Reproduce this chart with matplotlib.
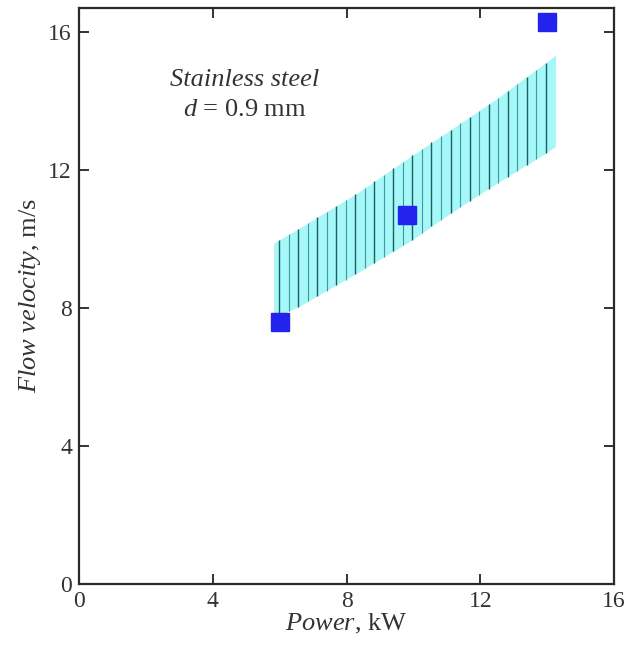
import numpy as np
import matplotlib.pyplot as plt

plt.rcParams['font.family'] = ['Liberation Serif', 'DejaVu Serif']
plt.rcParams['mathtext.fontset'] = 'custom'
plt.rcParams['mathtext.rm'] = 'Liberation Serif'
plt.rcParams['mathtext.it'] = 'Liberation Serif:italic'

# measured points
power = [6.0, 9.8, 14.0]
velocity = [7.6, 10.7, 16.3]

# uncertainty band (upper / lower edges)
band_x_up = [5.82, 6.57, 7.42, 8.31, 9.11, 9.96, 10.81, 11.66, 12.51, 13.10, 13.95, 14.25]
band_y_up = [9.88, 10.30, 10.80, 11.32, 11.86, 12.42, 12.97, 13.52, 14.08, 14.50, 15.10, 15.33]
band_x_lo = [5.82, 6.57, 8.31, 9.96, 10.81, 11.66, 12.51, 13.10, 13.95, 14.25]
band_y_lo = [7.71, 8.04, 9.01, 9.97, 10.55, 11.10, 11.62, 11.98, 12.48, 12.68]

fig = plt.figure(figsize=(6.37, 6.46), dpi=100)
ax = fig.add_axes([0.124, 0.096, 0.840, 0.892])

xx = np.linspace(band_x_up[0], band_x_up[-1], 200)
up = np.interp(xx, band_x_up, band_y_up)
lo = np.interp(xx, band_x_lo, band_y_lo)
ax.fill_between(xx, lo, up, color='#a6f7f7', linewidth=0, zorder=1)

# vertical hatch lines inside the band, alternating dark / light
hx = np.arange(5.98, 14.2, 0.285)
hlo = np.interp(hx, band_x_lo, band_y_lo)
hup = np.interp(hx, band_x_up, band_y_up)
ax.vlines(hx[::2], hlo[::2], hup[::2], colors='#1c5f66', linewidth=1.0, zorder=2)
ax.vlines(hx[1::2], hlo[1::2], hup[1::2], colors='#3e9aa0', linewidth=0.8, zorder=2)

ax.plot(power, velocity, 's', color='#2323ee', markersize=13, zorder=3)

ax.text(4.95, 14.62, 'Stainless steel', fontsize=19, style='italic', ha='center', va='center', color='#333333')
ax.text(4.95, 13.75, r'$\mathit{d}$ = 0.9 mm', fontsize=19, ha='center', va='center', color='#333333')

ax.set_xlim(0, 16)
ax.set_ylim(0, 16.7)
ax.set_xticks([0, 4, 8, 12, 16])
ax.set_yticks([0, 4, 8, 12, 16])
ax.tick_params(direction='in', length=7, width=1.3, top=True, right=True,
               labelsize=17, labelcolor='#333333', color='#222222', pad=5)
for s in ax.spines.values():
    s.set_linewidth(1.6)
    s.set_color('#2a2a2a')

ax.set_xlabel(r'$\mathit{Power}$, kW', fontsize=19, color='#333333', labelpad=0)
ax.set_ylabel(r'$\mathit{Flow\ velocity}$, m/s', fontsize=19, color='#333333', labelpad=4)

fig.savefig('out.png', dpi=100)
